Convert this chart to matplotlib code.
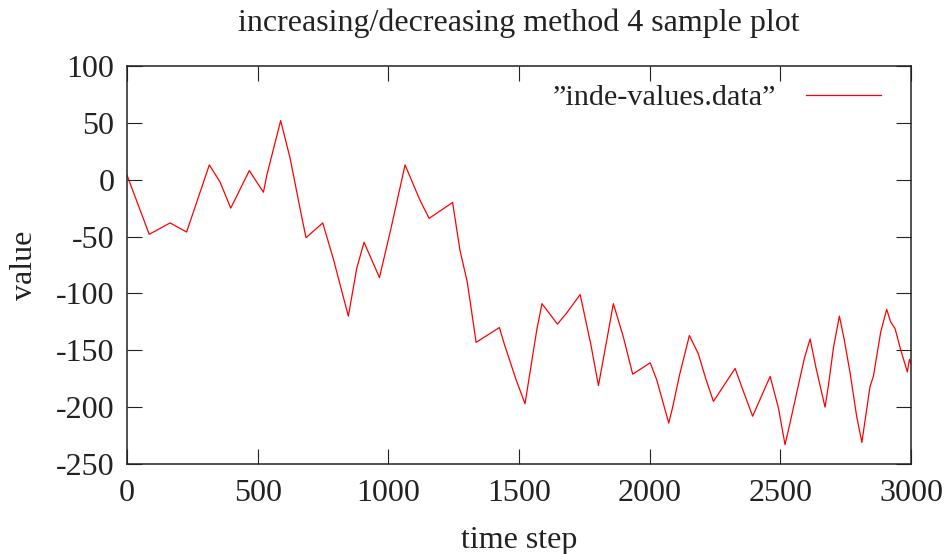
import matplotlib
matplotlib.use("Agg")
import matplotlib.pyplot as plt

time_step = [0, 85, 165, 228, 315, 356, 397, 468, 522, 535, 588, 624, 668, 685, 749, 790,
             847, 879, 907, 966, 1010, 1064, 1121, 1156, 1246, 1274, 1302, 1336, 1425, 1443,
             1489, 1523, 1568, 1588, 1647, 1683, 1734, 1775, 1804, 1836, 1861, 1899, 1935,
             2002, 2027, 2073, 2088, 2114, 2152, 2186, 2216, 2244, 2301, 2327, 2352, 2394,
             2461, 2493, 2518, 2537, 2563, 2592, 2614, 2636, 2671, 2684, 2703, 2726, 2744,
             2767, 2792, 2812, 2843, 2856, 2884, 2907, 2922, 2939, 2961, 2986, 2994, 3000]
value = [4, -48, -38, -46, 13, -2, -25, 8, -11, 4, 52, 19, -32, -51, -38, -70,
         -120, -78, -55, -86, -43, 13, -18, -34, -20, -62, -90, -143, -130, -144,
         -176, -197, -132, -109, -127, -117, -101, -145, -181, -141, -109, -138, -171,
         -161, -176, -214, -200, -172, -137, -153, -176, -195, -175, -166, -182, -208,
         -173, -201, -233, -214, -187, -157, -140, -165, -200, -181, -148, -120, -140,
         -170, -208, -231, -182, -173, -134, -114, -125, -131, -150, -169, -158, -162]

x_ticks = [0, 500, 1000, 1500, 2000, 2500, 3000]
y_ticks = [-250, -200, -150, -100, -50, 0, 50, 100]

FS = 23
LFS = 21.7
plt.rcParams['font.family'] = ['Liberation Serif', 'DejaVu Serif']
plt.rcParams['axes.unicode_minus'] = False
plt.rcParams['font.size'] = FS

fig = plt.figure(figsize=(9.48, 5.54), dpi=100)
ax = fig.add_axes([127/948, 1-464/554, (911-127)/948, (464-66)/554])
ax.plot(time_step, value, color='#ff0000', lw=0.9, label='\u201dinde-values.data\u201d')
ax.set_xlim(0, 3000)
ax.set_ylim(-250, 100)
ax.set_xticks(x_ticks)
ax.set_yticks(y_ticks)
ax.tick_params(direction='in', length=11, width=0.8, top=True, right=True, labelsize=FS, colors='#222222')
ax.tick_params(axis='x', pad=11)
ax.tick_params(axis='y', pad=9)
for s in ax.spines.values():
    s.set_linewidth(1.1)
    s.set_color('#222222')
ax.set_title('increasing/decreasing method 4 sample plot', fontsize=FS, pad=25, color='#222222')
ax.set_xlabel('time step', fontsize=FS, labelpad=13, color='#222222')
ax.set_ylabel('value', fontsize=FS, labelpad=12, color='#222222')
leg = ax.legend(loc='upper right', frameon=False, markerfirst=False, handlelength=2.5,
                handletextpad=0.96, borderaxespad=0.3, fontsize=LFS,
                bbox_to_anchor=(1 - 9/784, 1 + 3/398))
for t in leg.get_texts():
    t.set_color('#222222')
fig.savefig('out.png', dpi=100)
